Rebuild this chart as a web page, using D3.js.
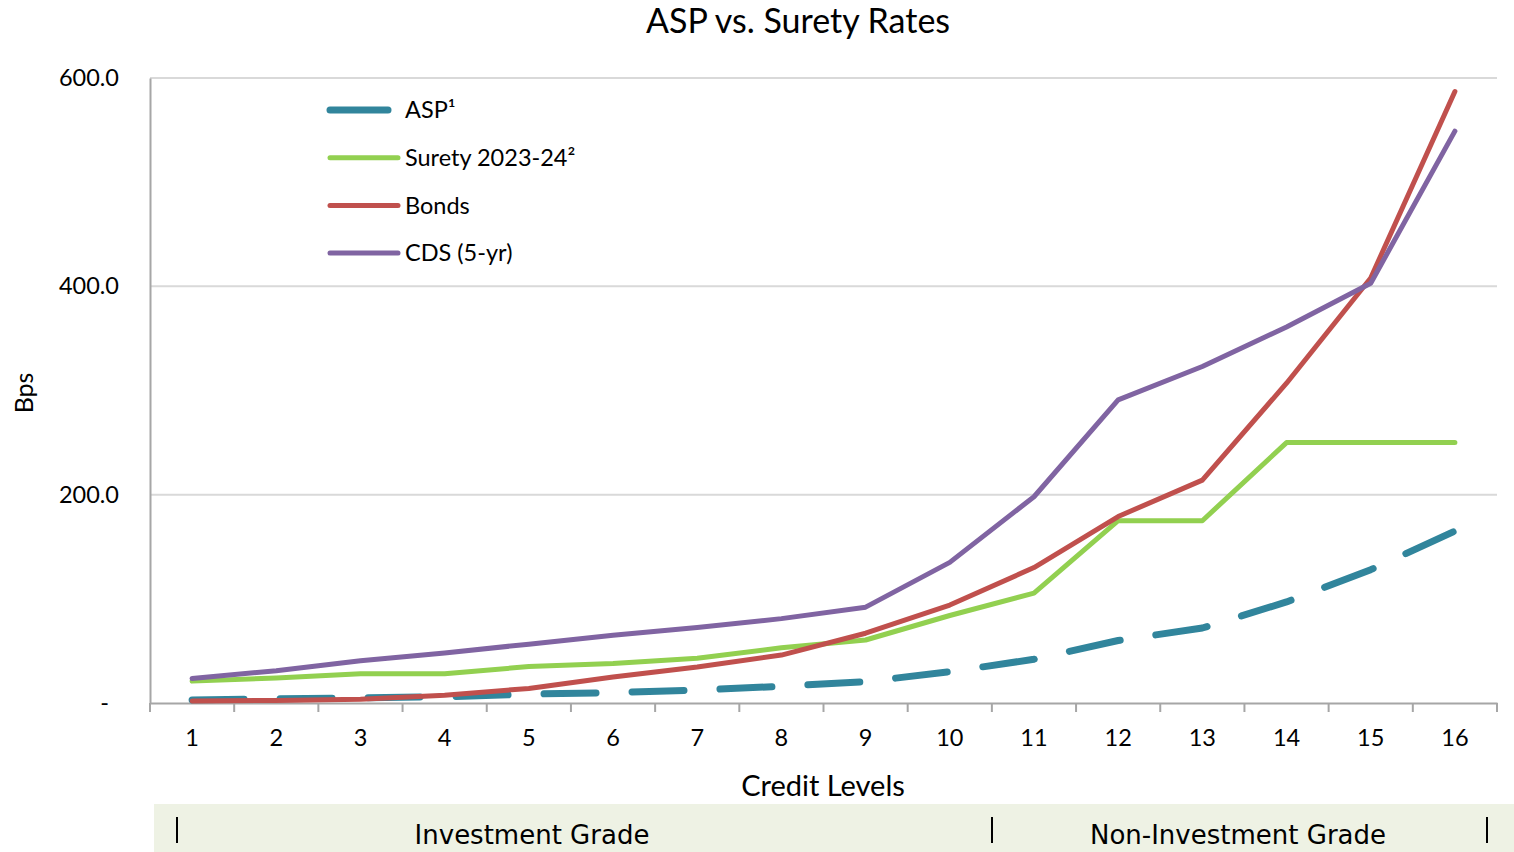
<!DOCTYPE html>
<html>
<head>
<meta charset="utf-8" />
<title>ASP vs. Surety Rates</title>
<style>
  body { margin: 0; background: #fff; }
  text { font-family: Lato, "Open Sans", sans-serif; fill: #000; }
</style>
</head>
<body>
<svg id="chart"></svg>
<script src="https://d3js.org/d3.v7.min.js"></script>
<script>
// data
var levels = ["1","2","3","4","5","6","7","8","9","10","11","12","13","14","15","16"];
var asp    = [3, 4, 5, 6, 8.5, 10, 12.5, 16, 20.5, 30, 42, 60, 72, 97, 128, 165];
var surety = [21, 24, 28, 28, 35, 38, 43, 53, 60.5, 84, 105.5, 175, 175, 250, 250, 250];
var bonds  = [2, 2.5, 3.5, 7.5, 14, 25, 34.5, 46, 67, 94, 130, 179, 214, 307, 408, 587];
var cds    = [23.5, 31, 40.5, 48, 56.5, 65, 72.5, 81, 92, 135, 198, 291, 323, 361, 403, 549];
var yTicks = [0, 200, 400, 600];

var series = [
  {name: "ASP\u00B9", values: asp, color: "#31859C", dashed: true},
  {name: "Surety 2023-24\u00B2", values: surety, color: "#92D050"},
  {name: "Bonds", values: bonds, color: "#C0504D"},
  {name: "CDS (5-yr)", values: cds, color: "#8064A2"}
];

var width = 1514, height = 852;
var svg = d3.select("#chart").attr("width", width).attr("height", height);

var x = d3.scaleBand().domain(levels).range([150, 1497]);
var y = d3.scaleLinear().domain([0, 600]).range([703, 78]);

// title
svg.append("text")
   .attr("x", 798).attr("y", 33)
   .attr("text-anchor", "middle")
   .attr("font-size", "34px")
   .text("ASP vs. Surety Rates");

// gridlines
svg.append("g").selectAll("line")
   .data(yTicks.slice(1))
   .enter().append("line")
   .attr("x1", 150).attr("x2", 1497)
   .attr("y1", function(d){ return y(d); })
   .attr("y2", function(d){ return y(d); })
   .attr("stroke", "#d9d9d9").attr("stroke-width", 2);

// y axis
var yAxis = svg.append("g")
   .attr("transform", "translate(150,0)")
   .call(d3.axisLeft(y).tickValues(yTicks).tickSize(0).tickPadding(31)
     .tickFormat(function(d){ return d === 0 ? "-" : d3.format(".1f")(d); }));
yAxis.select(".domain").attr("stroke", "#a6a6a6").attr("stroke-width", 2);
yAxis.selectAll("text").attr("font-size", "23.5px").attr("font-family", "Lato");
yAxis.selectAll(".tick text").filter(function(d){ return d === 0; }).attr("dx", -10);

// x axis
var xAxis = svg.append("g")
   .attr("transform", "translate(0,703)")
   .call(d3.axisBottom(x).tickSize(0).tickPadding(26));
xAxis.select(".domain").attr("stroke", "#a6a6a6").attr("stroke-width", 2);
xAxis.selectAll("text").attr("font-size", "23.5px").attr("font-family", "Lato");
xAxis.append("g").selectAll("line")
   .data(levels.concat(["end"]))
   .enter().append("line")
   .attr("x1", function(d){ return d === "end" ? 1497 : x(d); })
   .attr("x2", function(d){ return d === "end" ? 1497 : x(d); })
   .attr("y1", 0).attr("y2", 9)
   .attr("stroke", "#a6a6a6").attr("stroke-width", 2);

// axis titles
svg.append("text")
   .attr("transform", "translate(33,393)rotate(-90)")
   .attr("text-anchor", "middle")
   .attr("font-size", "25px")
   .text("Bps");
svg.append("text")
   .attr("x", 823).attr("y", 796)
   .attr("text-anchor", "middle")
   .attr("font-size", "29px")
   .text("Credit Levels");

// lines
var line = d3.line()
   .x(function(d, i){ return x(levels[i]) + x.bandwidth() / 2; })
   .y(function(d){ return y(d); });

svg.append("g").selectAll("path")
   .data(series)
   .enter().append("path")
   .attr("d", function(d){ return line(d.values); })
   .attr("fill", "none")
   .attr("stroke", function(d){ return d.color; })
   .attr("stroke-width", function(d){ return d.dashed ? 7 : 5; })
   .attr("stroke-linecap", "round")
   .attr("stroke-linejoin", "round")
   .attr("stroke-dasharray", function(d){ return d.dashed ? "52,36" : null; });

// legend
var legend = svg.append("g").selectAll("g")
   .data(series)
   .enter().append("g")
   .attr("transform", function(d, i){ return "translate(330," + (110 + i * 47.7) + ")"; });
legend.append("line")
   .attr("x1", 0).attr("x2", function(d){ return d.dashed ? 58 : 68; })
   .attr("stroke", function(d){ return d.color; })
   .attr("stroke-width", function(d){ return d.dashed ? 7 : 5; })
   .attr("stroke-linecap", "round");
legend.append("text")
   .attr("x", 75).attr("dy", "0.35em")
   .attr("font-size", "23.5px")
   .text(function(d){ return d.name; });

// grade band
var band = svg.append("g");
band.append("rect")
   .attr("x", 154).attr("y", 804).attr("width", 1360).attr("height", 48)
   .attr("fill", "#EEF2E4");
band.selectAll(".sep")
   .data([177, 992, 1487])
   .enter().append("line")
   .attr("class", "sep")
   .attr("x1", function(d){ return d; }).attr("x2", function(d){ return d; })
   .attr("y1", 817).attr("y2", 843)
   .attr("stroke", "#000").attr("stroke-width", 2);
band.selectAll(".grade")
   .data([{label: "Investment Grade", cx: 532}, {label: "Non-Investment Grade", cx: 1238}])
   .enter().append("text")
   .attr("class", "grade")
   .attr("x", function(d){ return d.cx; }).attr("y", 844)
   .attr("text-anchor", "middle")
   .attr("font-size", "26px")
   .style("font-family", "'DejaVu Sans', sans-serif")
   .text(function(d){ return d.label; });
</script>
</body>
</html>
